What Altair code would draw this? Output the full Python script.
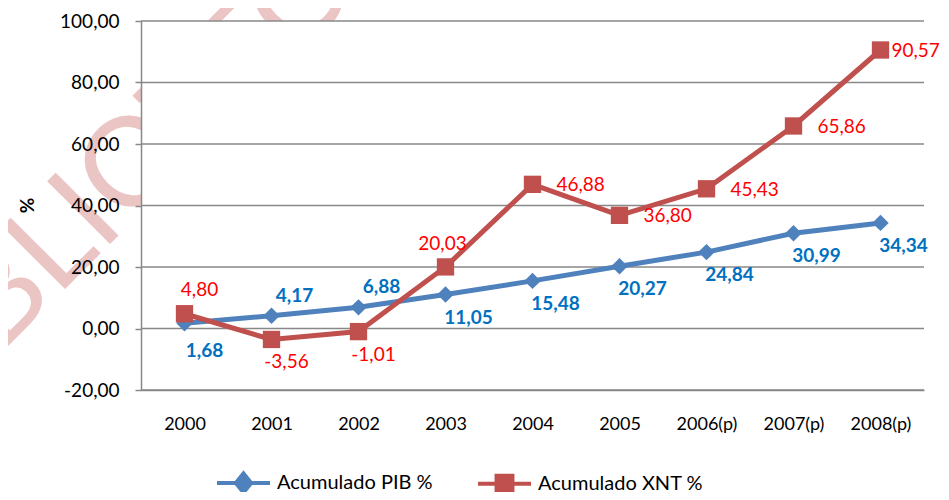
import altair as alt
import pandas as pd

# ---------------- data ----------------
YEARS = ["2000", "2001", "2002", "2003", "2004", "2005", "2006(p)", "2007(p)", "2008(p)"]
PIB = [1.68, 4.17, 6.88, 11.05, 15.48, 20.27, 24.84, 30.99, 34.34]
XNT = [4.80, -3.56, -1.01, 20.03, 46.88, 36.80, 45.43, 65.86, 90.57]
SERIES = ["Acumulado PIB %", "Acumulado XNT %"]
PIB_LABEL_POS = ["belowfar", "above", "above", "below", "below", "below", "below", "below", "below"]
XNT_LABEL_POS = ["above", "below", "below", "top", "right", "right", "right", "right", "rightedge"]
Y_TICKS = [-20, 0, 20, 40, 60, 80, 100]
Y_TITLE = "%"
WATERMARK_HEAD = "BIB"
WATERMARK_TAIL = "LIOTECA"

# ---------------- style ----------------
W, H = 783, 369
FONT = "Lato"
BLUE_LINE, RED_LINE = "#4F81BD", "#C0504D"
BLUE_TXT, RED_TXT = "#0070C0", "#FF0000"
GRID = "#888888"
LABEL_SIZE = 19
PIB_STYLE = {"below": dict(dx=23, dy=23, align="center"),
             "belowfar": dict(dx=20, dy=28, align="center"),
             "above": dict(dx=23, dy=-20, align="center")}
XNT_STYLE = {"above": dict(dx=15, dy=-24, align="center"),
             "below": dict(dx=15, dy=23, align="center"),
             "top": dict(dx=-3, dy=-23, align="center"),
             "right": dict(dx=24, dy=1, align="left"),
             "rightedge": dict(dx=11, dy=1, align="left")}
DIAMOND_LEG = "M-1,0L1,0M0,-0.36L0.29,0L0,0.36L-0.29,0Z"
SQUARE_LEG = "M-1,0L1,0M-0.3,-0.3L0.3,-0.3L0.3,0.3L-0.3,0.3Z"

rows = []
for s, vals, pos in ((SERIES[0], PIB, PIB_LABEL_POS), (SERIES[1], XNT, XNT_LABEL_POS)):
    for yr, v, p in zip(YEARS, vals, pos):
        rows.append({"year": yr, "serie": s, "value": v, "pos": p})
df = pd.DataFrame(rows)
grid_df = pd.DataFrame({"value": Y_TICKS})

label_expr = "replace(replace(format(datum.value, '.2f'), '.', ','), '\u2212', '-')"

x_enc = alt.X("year:N", sort=YEARS,
              scale=alt.Scale(type="point", domain=YEARS, padding=0.5),
              axis=alt.Axis(title=None, ticks=False, labelAngle=0, labelPadding=25,
                            labelFontSize=18,
                            domainColor=GRID, domainWidth=1.5, zindex=1))
y_enc = alt.Y("value:Q",
              scale=alt.Scale(domain=[-20, 100], nice=False, zero=False),
              axis=alt.Axis(values=Y_TICKS, title=Y_TITLE, grid=False,
                            labelExpr=label_expr, labelFontSize=19,
                            tickSize=6, tickColor=GRID, tickWidth=1.5, labelPadding=16,
                            domainColor=GRID, domainWidth=1.5, zindex=1,
                            titleX=-114, titleY=184, titleAlign="center", titleBaseline="middle",
                            titleFontWeight="bold", titleFontSize=19))

one = alt.Data(values=[{"k": 1}])

# watermark anchored at the start of the "L" (coordinates relative to the plot area)
wm_style = dict(fontSize=124, font=FONT, color="#EBC4C4", angle=315, baseline="alphabetic")
wm_head = alt.Chart(one).mark_text(text=WATERMARK_HEAD, align="right", **wm_style).encode(
    x=alt.value(-84), y=alt.value(276))
wm_tail = alt.Chart(one).mark_text(text=WATERMARK_TAIL, align="left", **wm_style).encode(
    x=alt.value(-84), y=alt.value(276))

plot_bg = alt.Chart(one).mark_rect(color="white").encode(
    x=alt.value(0), x2=alt.value(W), y=alt.value(0), y2=alt.value(H))

gridlines = alt.Chart(grid_df).mark_rule(color=GRID, strokeWidth=1.5).encode(y=y_enc)

base = alt.Chart(df)
layers = [wm_head, wm_tail, plot_bg, gridlines]
for s, col in ((SERIES[0], BLUE_LINE), (SERIES[1], RED_LINE)):
    sub = base.transform_filter(alt.datum.serie == s)
    layers.append(sub.mark_line(color=col, strokeWidth=5).encode(x=x_enc, y=y_enc))
for s, col, shape, size in ((SERIES[0], BLUE_LINE, "diamond", 270), (SERIES[1], RED_LINE, "square", 300)):
    sub = base.transform_filter(alt.datum.serie == s)
    layers.append(sub.mark_point(shape=shape, size=size, filled=True, color=col, opacity=1)
                  .encode(x=x_enc, y=y_enc))

for s, styles, col, weight in ((SERIES[0], PIB_STYLE, BLUE_TXT, "bold"), (SERIES[1], XNT_STYLE, RED_TXT, "normal")):
    for p, st in styles.items():
        layers.append(
            base.transform_filter((alt.datum.serie == s) & (alt.datum.pos == p))
            .transform_calculate(label=label_expr)
            .mark_text(font=FONT, fontSize=LABEL_SIZE, fontWeight=weight, color=col,
                       baseline="middle", **st)
            .encode(x=x_enc, y=y_enc, text="label:N"))

leg = alt.Legend(title=None, orient="none", direction="horizontal", columns=2,
                 legendX=74, legendY=433, columnPadding=37, labelOffset=5,
                 labelFont=FONT, labelFontSize=20, labelColor="black", labelLimit=400,
                 symbolSize=2809, symbolStrokeWidth=4, symbolOpacity=1, padding=0)
legend_layer = base.mark_point(filled=True, opacity=1).encode(
    x=x_enc, y=alt.value(-1000),
    fill=alt.Fill("serie:N", scale=alt.Scale(domain=SERIES, range=[BLUE_LINE, RED_LINE]), legend=leg),
    stroke=alt.Stroke("serie:N", scale=alt.Scale(domain=SERIES, range=[BLUE_LINE, RED_LINE]), legend=leg),
    shape=alt.Shape("serie:N", scale=alt.Scale(domain=SERIES, range=[DIAMOND_LEG, SQUARE_LEG]), legend=leg),
)
layers.append(legend_layer)

chart = alt.layer(*layers).properties(
    width=W, height=H,
    autosize=alt.AutoSizeParams(type="none"),
    padding={"left": 133, "top": 13, "right": 17, "bottom": 102},
    background="white",
).configure_view(stroke=None).configure_axis(
    labelFont=FONT, labelColor="black", titleFont=FONT, titleColor="black"
)

chart.save("out.html", embed_options={"renderer": "svg", "actions": False})
